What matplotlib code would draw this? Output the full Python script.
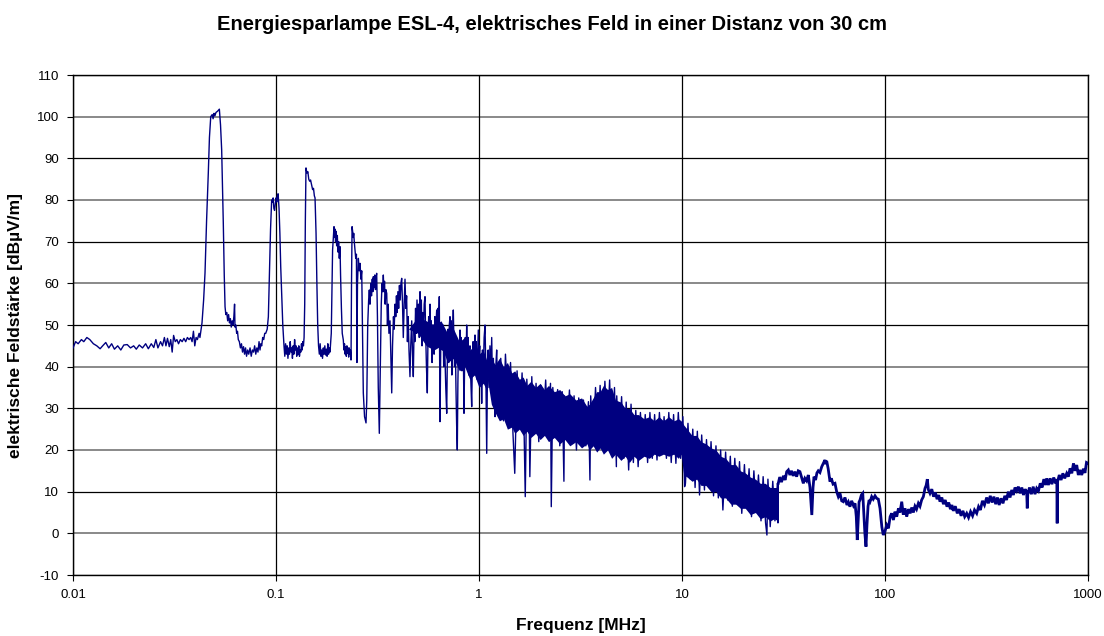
import matplotlib
matplotlib.use("Agg")
import matplotlib.pyplot as plt
from matplotlib.ticker import FixedLocator, NullLocator
import numpy as np

# ---------------- data (frequency in MHz, level in dBuV/m) ----------------
title = "Energiesparlampe ESL-4, elektrisches Feld in einer Distanz von 30 cm"
xlabel = "Frequenz [MHz]"
ylabel = "elektrische Feldstärke [dBµV/m]"
x_ticks = [0.01, 0.1, 1, 10, 100, 1000]
x_ticklabels = ["0.01", "0.1", "1", "10", "100", "1000"]
y_ticks = list(range(-10, 111, 10))

baseline_pts = [
    (0.0100, 44.5), (0.0103, 46), (0.0106, 45.5), (0.0110, 46.5), (0.0113, 46),
    (0.0117, 47), (0.0121, 46.5), (0.0126, 45.5), (0.0131, 45), (0.0136, 44.3),
    (0.0140, 45), (0.0145, 45.8), (0.0150, 44.5), (0.0155, 45.5), (0.0160, 44.2),
    (0.0166, 45), (0.0172, 44), (0.0178, 45.2), (0.0185, 45.3), (0.0192, 44.5),
    (0.0199, 45), (0.0205, 44.2), (0.0212, 45.2), (0.0220, 44.5), (0.0228, 45.5),
    (0.0235, 44.3), (0.0243, 45.5), (0.0250, 44.6), (0.0256, 46.5), (0.0262, 44.5),
    (0.0270, 46), (0.0276, 45), (0.0282, 47), (0.0287, 45), (0.0292, 46.8),
    (0.0298, 44.8), (0.0303, 46.5), (0.0308, 43.5), (0.0313, 47.5), (0.0319, 46),
    (0.0325, 46.5), (0.0331, 45.5), (0.0338, 46.5), (0.0345, 46), (0.0352, 46.8),
    (0.0359, 46), (0.0366, 47), (0.0373, 46.5), (0.0380, 47), (0.0386, 46),
    (0.0392, 48.5), (0.0398, 45), (0.0404, 47), (0.0410, 46.5), (0.0418, 48),
]

peak1_pts = [
    (0.0422, 47), (0.0432, 50.5), (0.0440, 56), (0.0447, 62.5), (0.0455, 75),
    (0.0464, 86.5), (0.0470, 95), (0.0477, 100), (0.0485, 100.5), (0.0490, 99.5),
    (0.0495, 100.8), (0.0500, 100.2), (0.0506, 101), (0.0515, 101.3), (0.0526, 101.8),
    (0.0533, 98), (0.0540, 92), (0.0550, 74.5), (0.0556, 62), (0.0561, 54.4),
    (0.0566, 52.5), (0.0572, 53), (0.0578, 51), (0.0584, 52.5), (0.0590, 50.5),
    (0.0596, 51.5), (0.0602, 49.5), (0.0608, 51), (0.0614, 50), (0.0620, 52),
    (0.0625, 55), (0.0628, 49.5), (0.0634, 50), (0.0640, 48), (0.0646, 48.5),
    (0.0652, 46.5), (0.0660, 46), (0.0668, 44.5), (0.0676, 45.5), (0.0684, 43.5),
    (0.0692, 44.8), (0.0700, 43), (0.0708, 44.5), (0.0716, 42.5), (0.0725, 44),
    (0.0734, 43), (0.0745, 44.5), (0.0755, 42.5), (0.0765, 44), (0.0775, 43.5),
    (0.0785, 45), (0.0795, 43), (0.0805, 44.5), (0.0815, 43.5), (0.0825, 46),
    (0.0834, 44), (0.0842, 45.5), (0.0850, 45), (0.0860, 47), (0.0870, 46.5),
    (0.0880, 48),
]

peak2_pts = [
    (0.0890, 48), (0.0905, 49), (0.0917, 52), (0.0928, 62), (0.0940, 73),
    (0.0952, 80), (0.0960, 79.5), (0.0968, 80.5), (0.0976, 78), (0.0984, 77.5),
    (0.0992, 79), (0.1000, 80.5), (0.1008, 79.5), (0.1016, 81), (0.1024, 81.5),
    (0.1035, 78), (0.1045, 72), (0.1055, 64), (0.1067, 57), (0.1080, 50),
    (0.1095, 45), (0.1105, 42.5), (0.1115, 45.5), (0.1125, 43), (0.1135, 45),
    (0.1145, 42), (0.1155, 44.5), (0.1165, 43), (0.1175, 46), (0.1185, 43.5),
    (0.1195, 44.5), (0.1205, 42), (0.1215, 45), (0.1225, 43), (0.1235, 46.5),
    (0.1245, 44), (0.1255, 45), (0.1265, 42.5), (0.1275, 44.5), (0.1285, 43),
    (0.1295, 45), (0.1305, 42.5), (0.1315, 44), (0.1325, 43.5), (0.1335, 45.5),
    (0.1345, 44), (0.1355, 46), (0.1365, 45), (0.1375, 47),
]

peak3_pts = [
    (0.1385, 55), (0.1395, 75), (0.1405, 87.7), (0.1420, 86.5), (0.1435, 86.8),
    (0.1450, 85), (0.1465, 84.5), (0.1480, 84.8), (0.1499, 83.5), (0.1515, 82.5),
    (0.1530, 82.8), (0.1545, 81), (0.1557, 80.5), (0.1575, 72), (0.1590, 60),
    (0.1605, 50), (0.1620, 45), (0.1635, 43), (0.1650, 45.5), (0.1665, 42.5),
    (0.1680, 44), (0.1695, 42), (0.1710, 44.5), (0.1725, 43), (0.1740, 45),
    (0.1755, 42.8), (0.1770, 44.2), (0.1785, 42.5), (0.1800, 45.5), (0.1815, 43),
    (0.1830, 44.5), (0.1845, 43.5), (0.1860, 46), (0.1872, 48),
]

peak4_pts = [
    (0.1885, 58), (0.1900, 68), (0.1931, 73.6), (0.1945, 71), (0.1955, 73),
    (0.1965, 70), (0.1975, 72.5), (0.1990, 69), (0.2005, 71.5), (0.2020, 67.5),
    (0.2035, 70), (0.2050, 66), (0.2067, 68.8), (0.2080, 62), (0.2100, 54),
    (0.2120, 48), (0.2146, 46.4), (0.2160, 44), (0.2175, 45.5), (0.2190, 43),
    (0.2205, 44.8), (0.2220, 42.5), (0.2235, 45), (0.2250, 43.2), (0.2265, 44.5),
    (0.2280, 42.3), (0.2295, 44.5), (0.2310, 43), (0.2325, 44), (0.2342, 41.6),
    (0.2355, 60), (0.2370, 73.6), (0.2385, 72.5), (0.2400, 71), (0.2415, 72),
    (0.2430, 70), (0.2445, 68.5), (0.2470, 66), (0.2490, 67), (0.2505, 41),
    (0.2520, 60), (0.2545, 66), (0.2570, 63), (0.2594, 64.8), (0.2620, 61),
    (0.2644, 63), (0.2665, 50), (0.2692, 33.7), (0.2730, 28), (0.2776, 26.5),
    (0.2800, 32),
]

comb_pts = [
    (0.2830, 50), (0.2860, 56), (0.2882, 58.4), (0.2905, 55), (0.2930, 60),
    (0.2955, 57), (0.2980, 61), (0.3000, 58), (0.3016, 61.6), (0.3040, 59),
    (0.3065, 62), (0.3090, 58.5), (0.3110, 61.5), (0.3133, 62.4), (0.3160, 52),
    (0.3190, 35), (0.3228, 24), (0.3260, 38), (0.3300, 55), (0.3330, 60),
    (0.3355, 58), (0.3378, 62), (0.3400, 58), (0.3425, 60.5), (0.3450, 55),
    (0.3475, 58.5), (0.3511, 57.6), (0.3540, 50), (0.3570, 55), (0.3600, 48),
    (0.3645, 51), (0.3680, 42), (0.3716, 33.7), (0.3750, 45), (0.3790, 52),
    (0.3820, 49), (0.3857, 55), (0.3890, 52), (0.3920, 57), (0.3950, 53),
    (0.3985, 58), (0.4020, 54), (0.4055, 59.5), (0.4090, 56), (0.4125, 60),
    (0.4161, 61.2), (0.4200, 55), (0.4237, 47), (0.4280, 55), (0.4320, 61),
    (0.4360, 54), (0.4400, 57), (0.4440, 46), (0.4480, 52), (0.4520, 44),
    (0.4571, 37.6), (0.4610, 45), (0.4662, 51), (0.4700, 44), (0.4747, 37.6),
    (0.4790, 50), (0.4830, 46), (0.4870, 54), (0.4910, 48), (0.4950, 56),
    (0.5000, 50), (0.5040, 55), (0.5080, 47), (0.5123, 58), (0.5160, 50),
    (0.5200, 56), (0.5240, 45), (0.5280, 53), (0.5320, 47), (0.5370, 55),
    (0.5420, 56.8), (0.5460, 48), (0.5510, 40), (0.5564, 33.7), (0.5600, 45),
    (0.5650, 52), (0.5690, 47), (0.5737, 55), (0.5780, 48), (0.5820, 51),
    (0.5870, 41), (0.5915, 44.8), (0.5960, 50), (0.6010, 43), (0.6060, 52),
    (0.6110, 46), (0.6150, 51), (0.6189, 53.6), (0.6230, 47), (0.6280, 54),
    (0.6330, 49), (0.6374, 56.8), (0.6425, 26.8), (0.6480, 45), (0.6551, 48.8),
    (0.6600, 44), (0.6650, 50), (0.6700, 40), (0.6760, 46), (0.6800, 42),
    (0.6860, 35), (0.6933, 28.8), (0.6990, 44), (0.7040, 49), (0.7090, 41),
    (0.7140, 50), (0.7197, 52), (0.7250, 44), (0.7300, 51), (0.7350, 38),
    (0.7400, 47), (0.7472, 53.6), (0.7530, 45), (0.7580, 40), (0.7640, 47),
    (0.7700, 35), (0.7760, 26), (0.7818, 20), (0.7870, 36), (0.7930, 46),
    (0.8000, 41), (0.8061, 48.8), (0.8120, 43), (0.8180, 47), (0.8240, 39),
    (0.8300, 45), (0.8370, 44), (0.8435, 28.8), (0.8500, 42), (0.8560, 47),
    (0.8630, 41), (0.8697, 50), (0.8760, 43), (0.8830, 47), (0.8900, 38),
    (0.8960, 44), (0.9030, 45), (0.9110, 37), (0.9205, 30.4), (0.9280, 42),
    (0.9350, 46), (0.9420, 39), (0.9490, 45), (0.9556, 47.6), (0.9620, 40),
    (0.9690, 46), (0.9760, 37), (0.9840, 43), (0.9922, 48.8), (1.0000, 42),
    (1.0080, 45), (1.0160, 36), (1.0240, 40), (1.0310, 31.2), (1.0400, 44),
    (1.0500, 39), (1.0600, 47), (1.0706, 50), (1.0800, 40), (1.0915, 19.2),
    (1.1000, 38), (1.1100, 44), (1.1200, 35), (1.1320, 45), (1.1440, 38),
    (1.1550, 47), (1.1650, 36), (1.1770, 42), (1.1880, 33), (1.1990, 28),
    (1.2100, 40), (1.2220, 44), (1.2330, 36), (1.2450, 38.4),
]

band_trace_pts = [
    (1.28, 42), (1.32, 27), (1.35, 43), (1.39, 30), (1.43, 41), (1.47, 24),
    (1.50, 14.4), (1.54, 39), (1.59, 26), (1.63, 38.5), (1.67, 23), (1.69, 8.8),
    (1.72, 37), (1.77, 25), (1.78, 13.6), (1.82, 37.6), (1.86, 24), (1.91, 36),
    (1.97, 22), (2.02, 35.5), (2.07, 26), (2.13, 36.8), (2.19, 23), (2.25, 36),
    (2.27, 6.4), (2.31, 35), (2.37, 24), (2.44, 34.5), (2.50, 21), (2.57, 34),
    (2.62, 12.5), (2.64, 33), (2.71, 24), (2.79, 34.4), (2.86, 22), (2.94, 33),
    (3.02, 20), (3.10, 32.5), (3.19, 23), (3.27, 32), (3.36, 21), (3.46, 31.6),
    (3.52, 12.8), (3.55, 33), (3.65, 22), (3.75, 35), (3.85, 23), (3.95, 35.5),
    (4.06, 21), (4.17, 36.5), (4.29, 24), (4.40, 36.8), (4.52, 19), (4.65, 35),
    (4.75, 16), (4.77, 33), (4.90, 20), (5.04, 32.8), (5.17, 18), (5.31, 31.5),
    (5.46, 15.2), (5.61, 31), (5.76, 17), (5.92, 29.5), (6.08, 16), (6.24, 29),
    (6.41, 19), (6.59, 28.5), (6.77, 17), (6.95, 29), (7.14, 18), (7.33, 28.5),
    (7.53, 17.6), (7.74, 29), (7.95, 19), (8.16, 28), (8.38, 18), (8.61, 29),
    (8.85, 17), (9.09, 28.5), (9.33, 16.8), (9.59, 29), (9.85, 18), (10.1, 28),
    (10.3, 11.2), (10.4, 12), (10.7, 26.4), (11.0, 13), (11.3, 25), (11.6, 11),
    (11.9, 24.5), (12.2, 9.2), (12.5, 23.6), (12.9, 10.4), (13.2, 22.5),
    (13.6, 11), (13.9, 22), (14.3, 9), (14.7, 21), (15.1, 8.5), (15.5, 20),
    (15.9, 5.6), (16.4, 19.5), (16.8, 8), (17.3, 18.5), (17.7, 6.5), (18.2, 18),
    (18.7, 7), (19.2, 17.2), (19.7, 4.8), (20.3, 16.5), (20.8, 6), (21.4, 15.5),
    (22.0, 4), (22.6, 15), (23.2, 5), (23.8, 14), (24.5, 3), (25.1, 13.6),
    (25.8, 2.5), (26.2, -0.4), (26.5, 13), (27.2, 1.6), (28.0, 12.5), (28.7, 3),
    (29.5, 12), (29.7, 2.5),
]

tail_pts = [
    (29.8, 12), (30.3, 13.5), (30.9, 12.3), (31.6, 13.8), (32.2, 12.8), (32.8, 14.8),
    (33.4, 15.2), (34.0, 14), (34.6, 15), (35.3, 13.8), (36.0, 14.8), (36.7, 13.6),
    (37.4, 15), (38.1, 14.8), (38.8, 13.5), (39.6, 12), (40.3, 13.2), (41.1, 12.6),
    (41.9, 14), (42.7, 11), (43.6, 4.4), (44.2, 11), (44.7, 13.6), (45.5, 12.8),
    (46.2, 14.5), (46.9, 15), (47.8, 14.6), (48.8, 16), (49.7, 16.8), (50.6, 17.6),
    (51.1, 16.6), (51.6, 17.4), (52.5, 15.5), (53.6, 12.4), (54.4, 13.2),
    (55.5, 11.8), (56.7, 12), (57.8, 10), (58.9, 8.8), (60.0, 9.6), (61.2, 7.8),
    (62.3, 7.6), (63.5, 8.6), (65.0, 6.8), (66.0, 7.5), (67.2, 6.4), (68.5, 7.8),
    (70.0, 6.6), (71.2, 7.2), (72.2, 4), (73.0, -1.6), (73.8, 3), (74.5, 7.5),
    (75.3, 8), (76.5, 9.2), (77.7, 9.6), (78.6, 5), (79.6, 0), (80.6, -3.2),
    (81.5, 2), (82.5, 6.5), (83.5, 8), (84.4, 7.6), (86.0, 8.8), (87.5, 8.2),
    (89.3, 9), (91.0, 8.4), (92.7, 8.2), (94.5, 6), (96.5, 1.5), (98.1, -0.4),
    (100, 0.5), (102, 2), (104, 1.2), (106, 4), (107.9, 4.8), (110, 3.2),
    (112, 5.2), (114.2, 4), (116.5, 6), (118.5, 5), (120.9, 7.6), (123, 4.5),
    (125.5, 6), (127.9, 4), (130.5, 5.8), (133, 4.8), (135.5, 6.2), (137.9, 5),
    (140.5, 6.5), (143, 5.8), (146, 7.2), (148.7, 6.5), (151.5, 8), (154.5, 8.8),
    (157.4, 10.8), (159.5, 11.5), (161.6, 13), (163.5, 10.5), (166.6, 9.6),
    (170, 10.6), (173.5, 8.8), (177, 9.8), (180.5, 8.2), (184, 9.2), (186.6, 7.6),
    (190.5, 8.6), (194, 7), (198, 8), (202, 6.4), (206, 7.4), (210, 5.8),
    (213.5, 6.8), (217, 5.4), (222, 6.5), (227, 4.8), (232, 5.8), (237, 4.2),
    (242, 5.4), (247, 4), (252.6, 4.8), (258, 3.8), (264, 5.2), (270, 4.2),
    (276, 5.6), (282.9, 4.8), (289, 6.4), (295, 5.6), (302, 7.8), (309, 6.8),
    (316.9, 8.6), (323, 7.2), (330, 9), (337, 7.4), (344, 8.8), (351, 7),
    (358, 8.6), (365, 6.8), (373, 8.4), (381.4, 7.2), (389, 9), (397, 8),
    (405, 10), (413, 8.6), (421, 10.4), (429, 9.2), (437, 11), (445.6, 10.2),
    (454, 11.2), (463, 9.6), (472, 11), (481, 9.2), (490, 10.6), (499, 9.8),
    (502, 6), (505, 9.4), (515, 11), (526, 9.4), (537, 11.2), (548, 9.4),
    (558.8, 10.8), (570, 10.2), (582, 12), (594, 11), (606, 13), (618, 11.6),
    (626, 13.2), (638, 11.6), (651, 13.2), (664, 11.8), (678, 13.4), (692, 12),
    (702, 13), (705, 2.4), (708, 12.4), (722, 14), (737, 12.8), (752, 14.4),
    (768, 13.2), (785.6, 14.4), (800, 13.6), (816, 15.6), (832, 14.4),
    (848, 16.8), (864, 15), (879.7, 16.4), (896, 14), (913, 15.2), (931, 14),
    (949, 15.5), (966, 14.5), (983, 17), (1000, 16.8),
]

# dense core of the 0.45-1.1 MHz comb region
comb_freq = [0.45, 0.50, 0.55, 0.60, 0.65, 0.70, 0.75, 0.80, 0.85, 0.90, 0.95, 1.00, 1.05, 1.10]
comb_hi = [49, 52, 51, 50, 51, 48, 49, 46, 47, 44, 45, 43, 44, 41]
comb_lo = [49, 48, 45, 44, 45, 41, 42, 39, 40, 37, 38, 35, 36, 34]

# dense core of the 1-30 MHz noise band
band_freq = [1.10, 1.15, 1.2, 1.26, 1.32, 1.38, 1.45, 1.5, 1.58, 1.65, 1.72, 1.8,
             1.9, 2.0, 2.1, 2.2, 2.35, 2.5, 2.65, 2.8, 3.0, 3.2, 3.4, 3.5, 3.65,
             3.8, 3.95, 4.1, 4.3, 4.5, 4.7, 5.0, 5.25, 5.5, 5.8, 6.1, 6.5, 6.9,
             7.3, 7.7, 8.1, 8.6, 9.1, 9.6, 9.9, 10.2, 10.6, 11.2, 11.8, 12.4,
             13.1, 13.9, 14.7, 15.5, 16.4, 17.4, 18.4, 19.4, 20.5, 21.7, 23.0,
             24.3, 25.7, 27.2, 28.5, 29.7]
band_hi = [37, 42, 40.5, 42, 40, 41, 38.5, 39, 37, 37.5, 35.5, 36.5,
           35, 36, 34.5, 35.5, 34, 34.5, 33, 33.5, 32, 32.5, 30.5, 31, 32.5,
           34, 34, 35.5, 34.5, 35, 32, 31.5, 30, 30, 28.5, 28.5, 27.5, 28,
           27, 28, 27, 28, 27, 27.5, 27, 26, 25, 23.5, 23.5, 22,
           21.5, 20.5, 20, 18.5, 18, 16.5, 16.5, 15, 14.5, 13.5, 13,
           12, 12, 11, 11, 11]
band_lo = [37, 31, 29, 27, 27.5, 25, 25.5, 24, 25, 23.5, 24.5, 23,
           24, 22.5, 23.5, 22, 23, 21.5, 22.5, 21, 22, 20.5, 21.5, 20, 21,
           19.5, 20.5, 19, 20, 18, 19, 17.5, 18.5, 17, 18.5, 17.5, 18.5, 18,
           19, 18.5, 19, 18.5, 19, 18, 19, 14, 13.5, 12.5, 13, 11.5,
           11.5, 10, 10, 8.5, 8.5, 7, 7, 6, 6, 4.5, 5,
           3.5, 4, 3, 3.5, 3]

# ---------------- plotting ----------------
plt.rcParams['font.family'] = ['Liberation Sans', 'DejaVu Sans']
plt.rcParams['axes.unicode_minus'] = False
color = '#000080'

fig = plt.figure(figsize=(11.04, 6.36), dpi=100)
ax = fig.add_axes([73/1104, 1 - 575/636, (1088 - 73)/1104, (575 - 75)/636])

trace = baseline_pts + peak1_pts + peak2_pts + peak3_pts + peak4_pts + comb_pts + band_trace_pts
freq = np.array([p[0] for p in trace])
level = np.array([p[1] for p in trace])
tail_f = np.array([p[0] for p in tail_pts])
tail_v = np.array([p[1] for p in tail_pts])

ax.set_xscale('log')
ax.set_xlim(0.01, 1000)
ax.set_ylim(-10, 110)

for v in y_ticks:
    if v % 20 == 0:
        ax.axhline(v, color='#808080', lw=1.3, zorder=1)
    else:
        ax.axhline(v, color='black', lw=0.9, zorder=1)
for xv in x_ticks:
    ax.axvline(xv, color='black', lw=0.9, zorder=1)

ax.fill_between(comb_freq, comb_lo, comb_hi, color=color, lw=0, zorder=2)
ax.fill_between(band_freq, band_lo, band_hi, color=color, lw=0, zorder=2)
ax.plot(np.append(freq, tail_f[0]), np.append(level, tail_v[0]), color=color, lw=1.0, zorder=3)
ax.plot(tail_f, tail_v, color=color, lw=2.0, zorder=3, solid_joinstyle='miter')

ax.xaxis.set_major_locator(FixedLocator(x_ticks))
ax.xaxis.set_minor_locator(NullLocator())
ax.set_xticklabels(x_ticklabels)
ax.set_yticks(y_ticks)
ax.tick_params(axis='both', labelsize=9.5, length=4, width=0.8, color='black', direction='out', pad=6)

for s in ax.spines.values():
    s.set_color('black')
    s.set_linewidth(1.0)

fig.text(0.5, 1 - 24/636, title, fontsize=14.5, fontweight='bold', ha='center', va='center')
ax.set_xlabel(xlabel, fontsize=12.5, fontweight='bold', labelpad=12)
ax.set_ylabel(ylabel, fontsize=12.5, fontweight='bold', labelpad=10)

fig.savefig('out.png', dpi=100)
